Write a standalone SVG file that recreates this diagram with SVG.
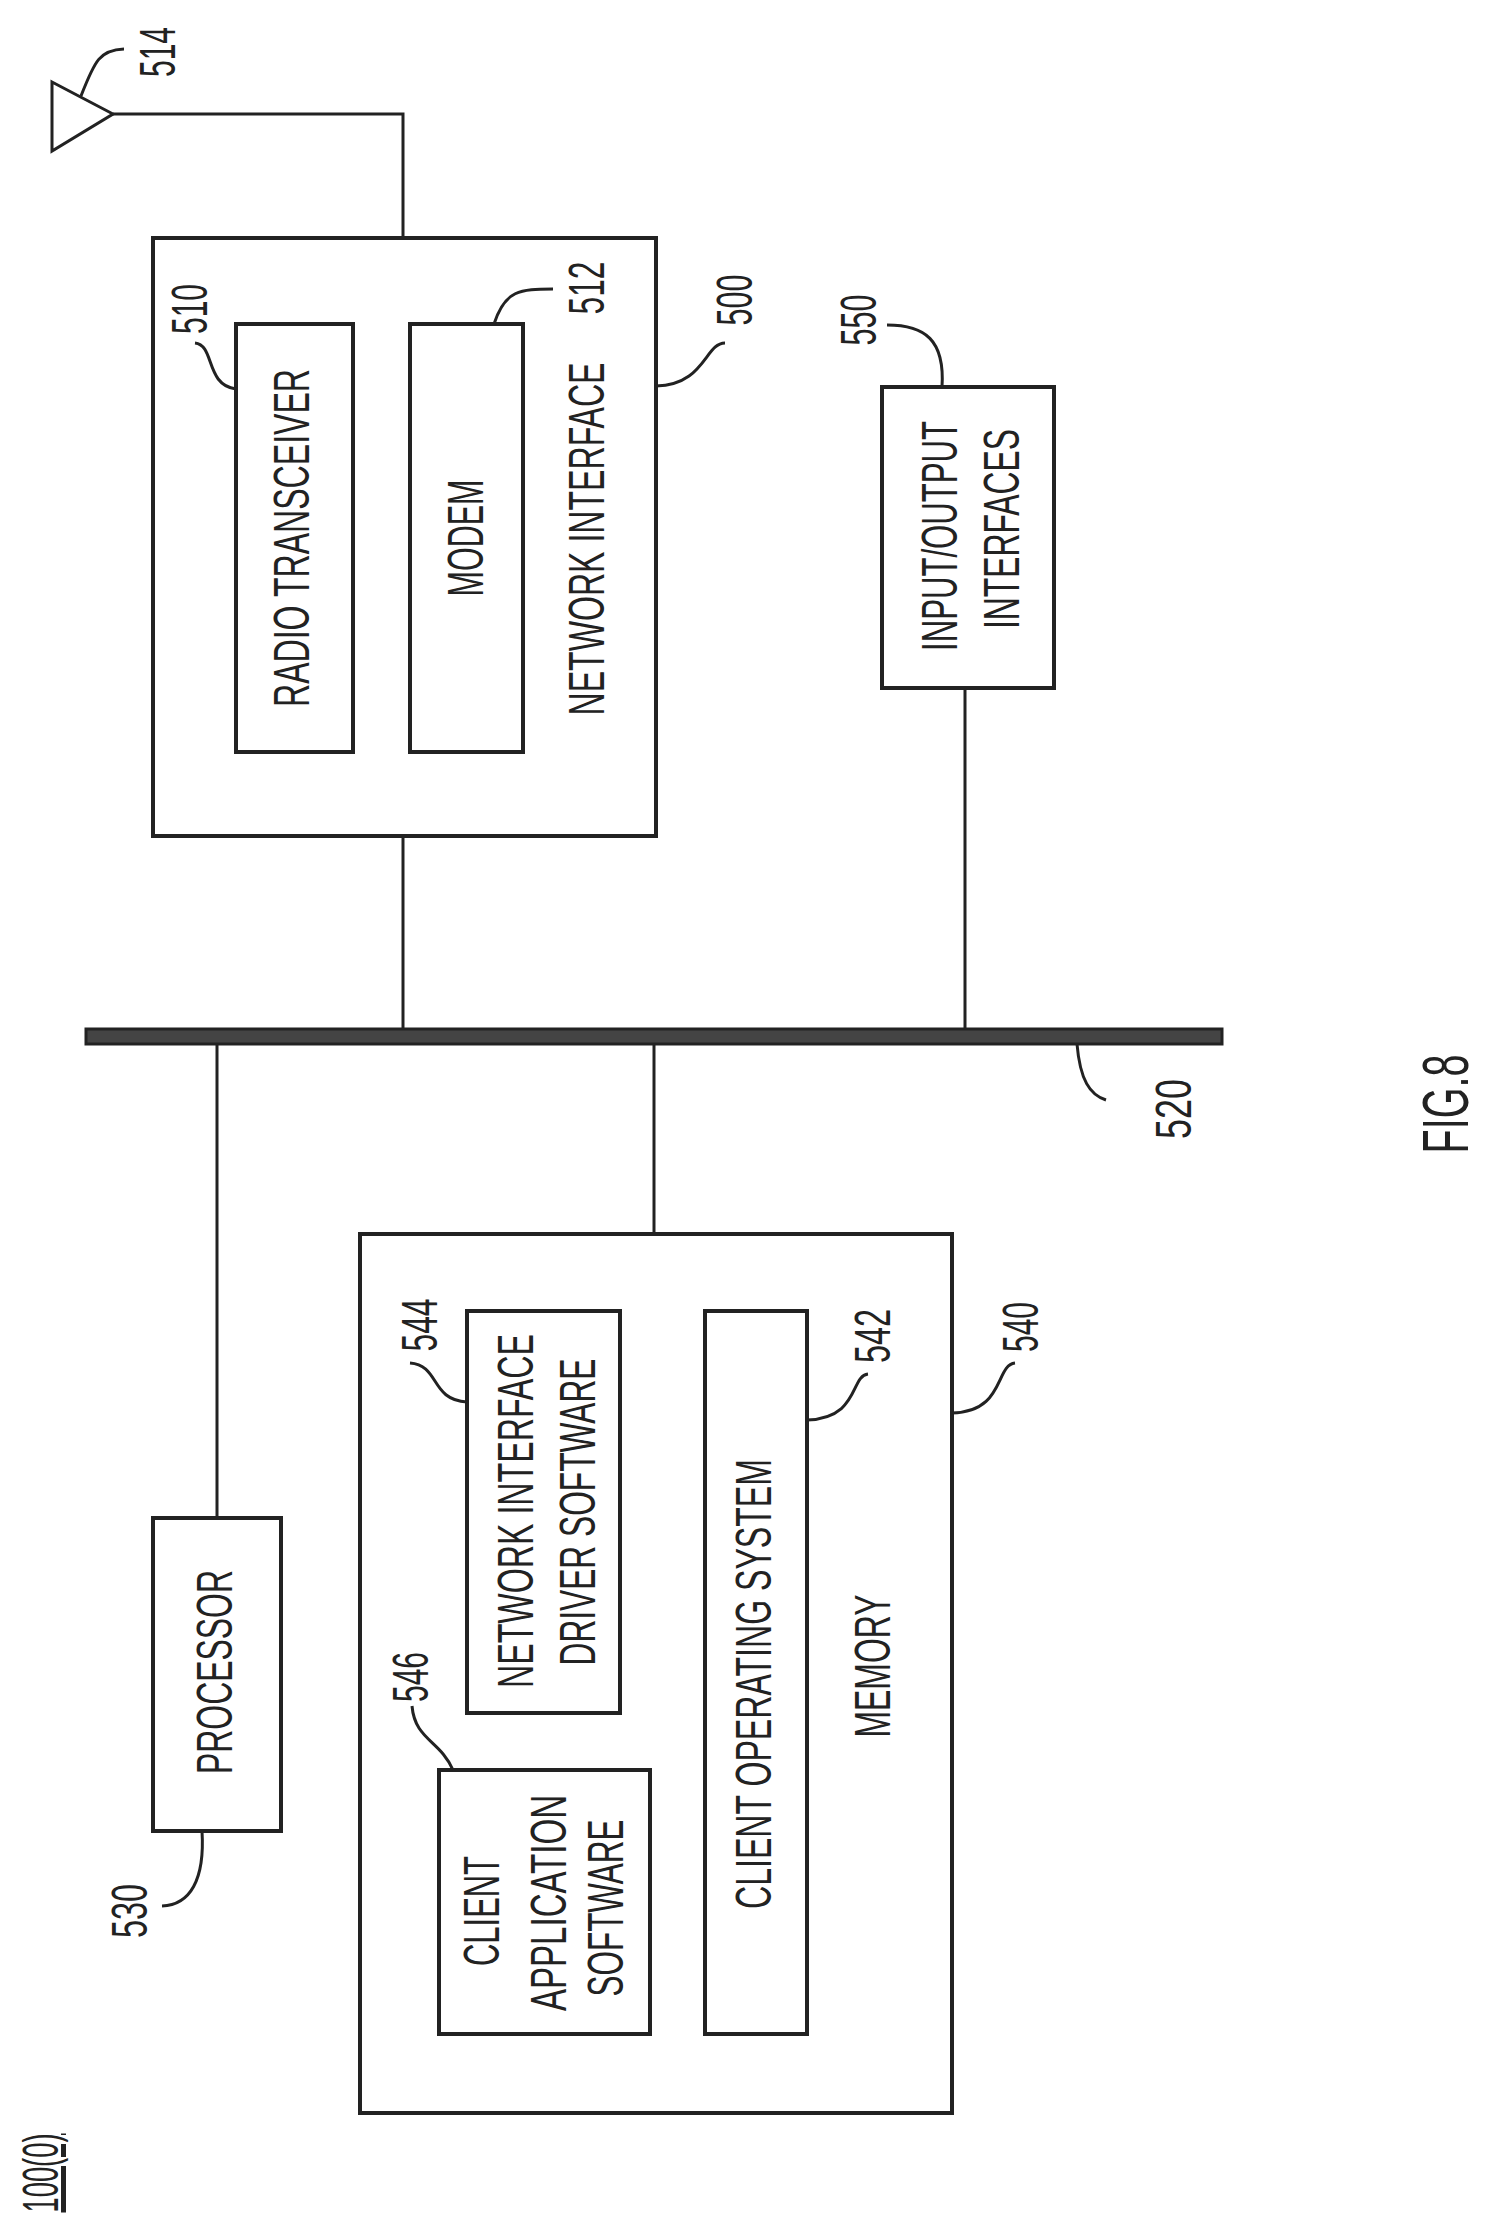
<svg xmlns="http://www.w3.org/2000/svg" width="1495" height="2240" viewBox="0 0 1495 2240">
<style>
.b{fill:#fff;stroke:#222;stroke-width:4}
.l{fill:none;stroke:#222;stroke-width:3}
.t{font-family:"Liberation Sans",Arial,sans-serif;font-size:50px;fill:#222;text-anchor:middle}
</style>
<rect width="1495" height="2240" fill="#fff"/>
<g id="bus520"><rect x="86" y="1029" width="1136" height="15" fill="#444" stroke="#222" stroke-width="3"/>
<text class="t" transform="translate(1191,1109) rotate(-90)" textLength="60" lengthAdjust="spacingAndGlyphs">520</text></g>
<g id="antenna514"><polygon points="52,82 113,114 52,151" fill="#fff" stroke="#222" stroke-width="3"/>
<text class="t" transform="translate(175,52) rotate(-90)" textLength="50" lengthAdjust="spacingAndGlyphs">514</text></g>
<g id="ni500"><rect class="b" x="153" y="238" width="503" height="598"/>
<text class="t" transform="translate(604,539) rotate(-90)" textLength="353" lengthAdjust="spacingAndGlyphs">NETWORK INTERFACE</text>
<text class="t" transform="translate(752,300) rotate(-90)" textLength="51" lengthAdjust="spacingAndGlyphs">500</text></g>
<g id="radio510"><rect class="b" x="236" y="324" width="117" height="428"/>
<text class="t" transform="translate(309,538) rotate(-90)" textLength="338" lengthAdjust="spacingAndGlyphs">RADIO TRANSCEIVER</text>
<text class="t" transform="translate(207,309) rotate(-90)" textLength="50" lengthAdjust="spacingAndGlyphs">510</text></g>
<g id="modem512"><rect class="b" x="410" y="324" width="113" height="428"/>
<text class="t" transform="translate(483,538) rotate(-90)" textLength="117" lengthAdjust="spacingAndGlyphs">MODEM</text>
<text class="t" transform="translate(604,288) rotate(-90)" textLength="53" lengthAdjust="spacingAndGlyphs">512</text></g>
<g id="io550"><rect class="b" x="882" y="387" width="172" height="301"/>
<text class="t" transform="translate(957,536) rotate(-90)" textLength="230" lengthAdjust="spacingAndGlyphs">INPUT/OUTPUT</text>
<text class="t" transform="translate(1019,529) rotate(-90)" textLength="200" lengthAdjust="spacingAndGlyphs">INTERFACES</text>
<text class="t" transform="translate(876,320) rotate(-90)" textLength="51" lengthAdjust="spacingAndGlyphs">550</text></g>
<g id="proc530"><rect class="b" x="153" y="1518" width="128" height="313"/>
<text class="t" transform="translate(232,1672) rotate(-90)" textLength="204" lengthAdjust="spacingAndGlyphs">PROCESSOR</text>
<text class="t" transform="translate(147,1911) rotate(-90)" textLength="54" lengthAdjust="spacingAndGlyphs">530</text></g>
<g id="mem540"><rect class="b" x="360" y="1234" width="592" height="879"/>
<text class="t" transform="translate(890,1666) rotate(-90)" textLength="143" lengthAdjust="spacingAndGlyphs">MEMORY</text>
<text class="t" transform="translate(1038,1327) rotate(-90)" textLength="50" lengthAdjust="spacingAndGlyphs">540</text></g>
<g id="nid544"><rect class="b" x="467" y="1311" width="153" height="402"/>
<text class="t" transform="translate(533,1511) rotate(-90)" textLength="354" lengthAdjust="spacingAndGlyphs">NETWORK INTERFACE</text>
<text class="t" transform="translate(595,1512) rotate(-90)" textLength="307" lengthAdjust="spacingAndGlyphs">DRIVER SOFTWARE</text>
<text class="t" transform="translate(437,1325) rotate(-90)" textLength="53" lengthAdjust="spacingAndGlyphs">544</text></g>
<g id="os542"><rect class="b" x="705" y="1311" width="102" height="723"/>
<text class="t" transform="translate(771,1684) rotate(-90)" textLength="450" lengthAdjust="spacingAndGlyphs">CLIENT OPERATING SYSTEM</text>
<text class="t" transform="translate(890,1336) rotate(-90)" textLength="54" lengthAdjust="spacingAndGlyphs">542</text></g>
<g id="app546"><rect class="b" x="439" y="1770" width="211" height="264"/>
<text class="t" transform="translate(499,1911) rotate(-90)" textLength="110" lengthAdjust="spacingAndGlyphs">CLIENT</text>
<text class="t" transform="translate(566,1903) rotate(-90)" textLength="216" lengthAdjust="spacingAndGlyphs">APPLICATION</text>
<text class="t" transform="translate(623,1908) rotate(-90)" textLength="177" lengthAdjust="spacingAndGlyphs">SOFTWARE</text>
<text class="t" transform="translate(428,1677) rotate(-90)" textLength="50" lengthAdjust="spacingAndGlyphs">546</text></g>
<g id="labels">
<text class="t" transform="translate(58,2173) rotate(-90)" textLength="79" lengthAdjust="spacingAndGlyphs" text-decoration="underline">100(0)</text>
<text class="t" style="font-size:64px" transform="translate(1468,1104) rotate(-90)" textLength="99" lengthAdjust="spacingAndGlyphs">FIG.8</text>
</g>
<g id="connectors">
<polyline class="l" points="113,114 403,114 403,238"/>
<line class="l" x1="403" y1="836" x2="403" y2="1030"/>
<line class="l" x1="965" y1="688" x2="965" y2="1030"/>
<line class="l" x1="217" y1="1044" x2="217" y2="1518"/>
<line class="l" x1="654" y1="1044" x2="654" y2="1234"/>
<path class="l" d="M81,96 C95,60 100,50 124,49"/>
<path class="l" d="M236,389 C205,385 215,345 195,343"/>
<path class="l" d="M494,324 C505,290 520,289 553,289"/>
<path class="l" d="M656,386 C705,385 705,343 725,343"/>
<path class="l" d="M942,387 C945,340 925,325 887,325"/>
<path class="l" d="M1077,1044 C1080,1080 1090,1095 1106,1100"/>
<path class="l" d="M202,1831 C205,1880 190,1905 162,1906"/>
<path class="l" d="M467,1402 C430,1400 440,1365 410,1363"/>
<path class="l" d="M807,1420 C860,1418 850,1376 868,1374"/>
<path class="l" d="M952,1413 C1005,1412 995,1365 1015,1363"/>
<path class="l" d="M453,1770 C440,1740 415,1740 412,1706"/>
</g>
</svg>
